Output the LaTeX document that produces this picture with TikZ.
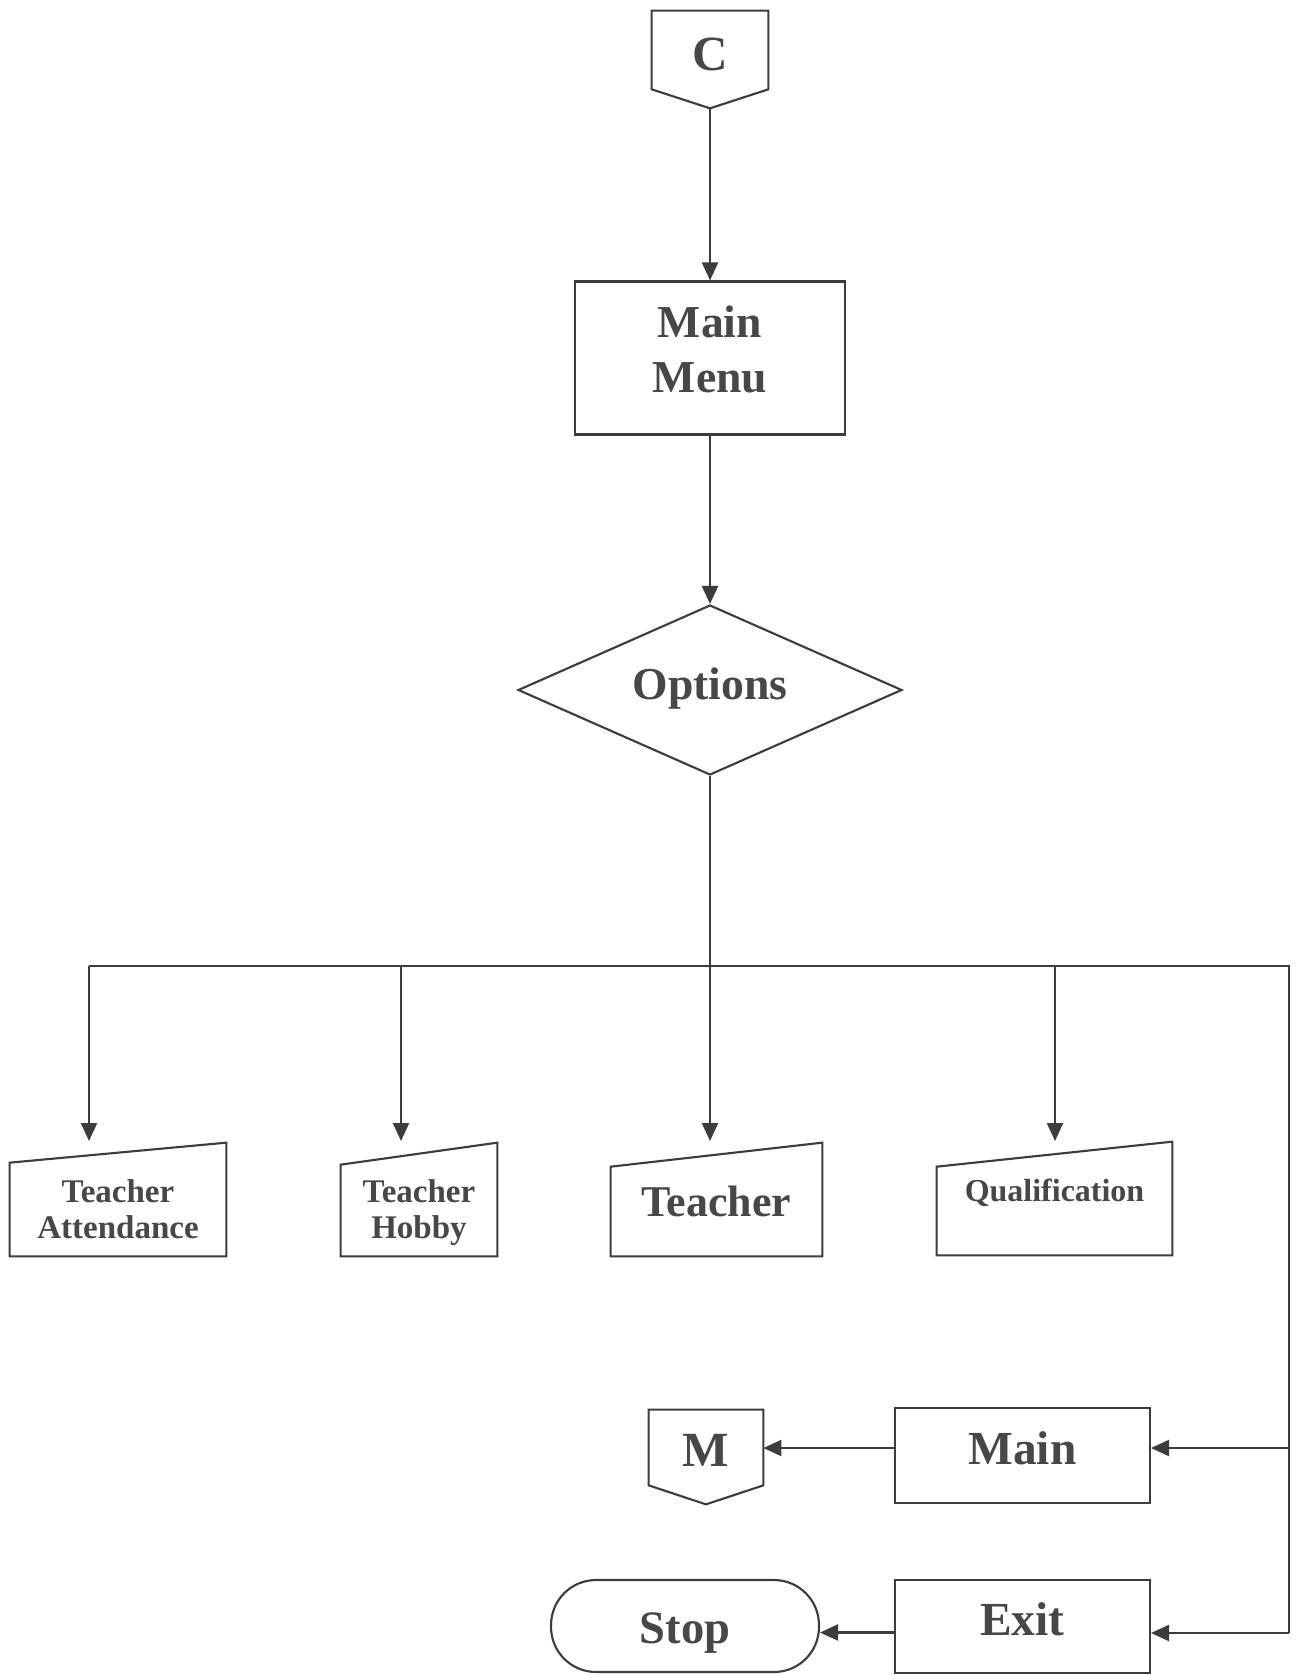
\documentclass[tikz,border=0pt]{standalone}
\usepackage{fontspec}
\setmainfont{Liberation Serif}
\usetikzlibrary{arrows.meta,shapes.geometric}
\definecolor{linec}{HTML}{3C3C3C}
\definecolor{textc}{HTML}{474747}
% put a text's baseline #1 away from its node's centre, without changing the node's size
\newcommand{\setbase}[2]{\raisebox{#1}[0pt][0pt]{#2}}
\newcommand{\twolines}[2]{\begin{tabular}[t]{@{}c@{}}#1\\#2\end{tabular}}
\begin{document}
\begin{tikzpicture}[x=0.02cm,y=-0.02cm]
\tikzset{
  line/.style={draw=linec, line width=1.2pt},
  arr/.style={line, -{Triangle[length=0.36cm,width=0.32cm]}},
  txt/.style={text=textc, inner sep=0pt, align=center},
  big/.style={txt, font=\bfseries\fontsize{27}{32}\selectfont},
  small/.style={txt, font=\bfseries\fontsize{18.8}{20.8}\selectfont},
  box/.style={line, rectangle, txt},
  outline/.style={draw=none, txt},
}
\useasboundingbox[fill=white] (0,0) rectangle (1295,1675);

% on-page connector C
\node[outline, big, font=\bfseries\fontsize{28}{32}\selectfont,
      minimum width=2.32cm, minimum height=1.94cm] (c) at (710,59.5) {\setbase{-0.23cm}{C}};
\draw[line] (c.north west) -- (c.north east) -- ([yshift=0.38cm]c.south east)
  -- (c.south) -- ([yshift=0.38cm]c.south west) -- cycle;

% main menu
\node[box, big, font=\bfseries\fontsize{26}{31.8}\selectfont,
      minimum width=5.4cm, minimum height=3.06cm] (mm) at (710,358)
  {\setbase{0.42cm}{\twolines{Main}{Menu}}};

% decision
\node[diamond, line, txt, font=\bfseries\fontsize{26}{30}\selectfont,
      minimum width=7.68cm, minimum height=3.4cm] (opt) at (710,690) {\setbase{-0.18cm}{Options}};

% manual input boxes
\node[outline, small, minimum width=4.32cm, minimum height=2.26cm] (ta) at (118,1199.5)
  {\setbase{-0.05cm}{\twolines{Teacher}{Attendance}}};
\draw[line] ([yshift=-0.4cm]ta.north west) -- (ta.north east) -- (ta.south east) -- (ta.south west) -- cycle;

\node[outline, small, minimum width=3.12cm, minimum height=2.26cm] (th) at (419,1199.5)
  {\setbase{-0.05cm}{\twolines{Teacher}{Hobby}}};
\draw[line] ([yshift=-0.44cm]th.north west) -- (th.north east) -- (th.south east) -- (th.south west) -- cycle;

\node[outline, big, font=\bfseries\fontsize{25}{30}\selectfont,
      minimum width=4.22cm, minimum height=2.26cm] (te) at (716.5,1199.5) {\setbase{-0.34cm}{Teacher}};
\draw[line] ([yshift=-0.48cm]te.north west) -- (te.north east) -- (te.south east) -- (te.south west) -- cycle;

\node[outline, small, font=\bfseries\fontsize{18.2}{21}\selectfont,
      minimum width=4.7cm, minimum height=2.26cm] (qu) at (1054.5,1198.5)
  {\setbase{-0.06cm}{Qualification}};
\draw[line] ([yshift=-0.5cm]qu.north west) -- (qu.north east) -- (qu.south east) -- (qu.south west) -- cycle;

% off-page connector M
\node[outline, big, font=\bfseries\fontsize{28}{32}\selectfont,
      minimum width=2.28cm, minimum height=1.88cm] (m) at (706,1457) {\setbase{-0.19cm}{M}};
\draw[line] (m.north west) -- (m.north east) -- ([yshift=0.38cm]m.south east)
  -- (m.south) -- ([yshift=0.38cm]m.south west) -- cycle;

% main / exit / stop
\node[box, big, minimum width=5.1cm, minimum height=1.9cm] (main) at (1022.5,1455.5) {\setbase{-0.17cm}{Main}};
\node[box, big, minimum width=5.1cm, minimum height=1.86cm] (exit) at (1022.5,1626.5) {\setbase{-0.17cm}{Exit}};
\node[box, big, font=\bfseries\fontsize{26.5}{32}\selectfont, rounded corners=0.9cm,
      minimum width=5.36cm, minimum height=1.84cm] (stop) at (685,1626) {\setbase{-0.34cm}{Stop}};

% bus and arrow ends
\coordinate (busL) at (89,966);
\coordinate (busR) at (1289,966);
\coordinate (ta-in) at (89,1141);
\coordinate (th-in) at (401,1141);
\coordinate (te-in) at (710,1141);
\coordinate (qu-in) at (1055,1141);
\coordinate (busEnd) at (1289,1633);
\coordinate (main-in) at ([yshift=0.15cm]main.east);
\coordinate (main-out) at ([yshift=0.15cm]main.west);
\coordinate (exit-out) at ([yshift=-0.12cm]exit.west);

% connectors
\draw[arr] (c.south) -- (mm.north);
\draw[arr] (mm.south) -- (opt.north);
\draw[arr] (opt.south) -- (te-in);
\draw[line] (busL) -- (busR) -- (busEnd);
\draw[arr] (busL) -- (ta-in);
\draw[arr] (th-in |- busL) -- (th-in);
\draw[arr] (qu-in |- busL) -- (qu-in);
\draw[arr] (busR |- main-in) -- (main-in);
\draw[arr] (busEnd) -- (busEnd -| exit.east);
\draw[arr] (main-out) -- (main-out -| m.east);
\draw[arr] (exit-out) -- (exit-out -| stop.east);
\end{tikzpicture}
\end{document}
